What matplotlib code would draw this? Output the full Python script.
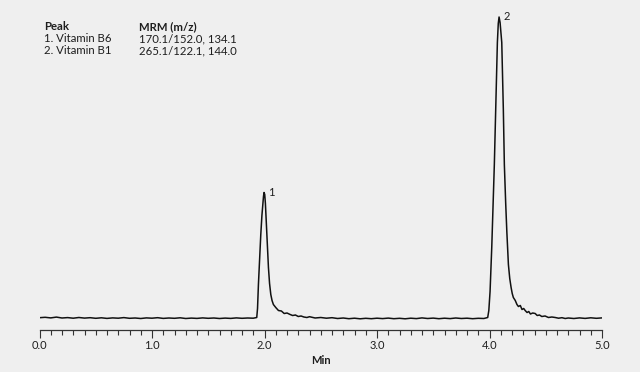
import matplotlib
matplotlib.use("Agg")
import matplotlib.pyplot as plt
from matplotlib.ticker import MultipleLocator, FormatStrFormatter

# ---- data (time in min, signal in arbitrary units) ----
baseline_a_time = [0.00, 0.05, 0.10, 0.15, 0.20, 0.25, 0.30, 0.35, 0.40, 0.45, 0.50, 0.55, 0.60,
                   0.65, 0.70, 0.75, 0.80, 0.85, 0.90, 0.95, 1.00, 1.05, 1.10, 1.15, 1.20, 1.25,
                   1.30, 1.35, 1.40, 1.45, 1.50, 1.55, 1.60, 1.65, 1.70, 1.75, 1.80, 1.85, 1.90]
baseline_a_signal = [0.8, 1.2, 0.6, 1.4, 0.5, 0.9, 0.3, 1.0, 0.4, 0.8, 0.2, 0.7, 0.1,
                     0.6, 0.3, 0.9, 0.2, 0.5, 0.0, 0.6, 0.3, 0.8, 0.1, 0.5, 0.2, 0.7,
                     0.0, 0.4, 0.1, 0.6, 0.2, 0.5, 0.0, 0.4, 0.1, 0.6, 0.2, 0.5, 0.3]

peak1_time = [1.931, 1.938, 1.946, 1.957, 1.967, 1.977, 1.985, 1.991, 1.996, 2.002, 2.008,
              2.014, 2.025, 2.035, 2.045, 2.056, 2.067, 2.079, 2.100, 2.124, 2.150, 2.175,
              2.200, 2.228, 2.250, 2.275, 2.300, 2.325, 2.350, 2.377, 2.400]
peak1_signal = [1.0, 10.0, 34.0, 60.0, 84.0, 103.0, 114.0, 122.0, 126.0, 124.0, 115.0,
                101.0, 75.0, 51.0, 35.0, 24.0, 18.0, 14.0, 11.0, 8.0, 7.5, 5.0,
                5.5, 4.0, 3.0, 3.5, 2.0, 2.5, 1.5, 1.0, 1.8]

baseline_b_time = [2.45, 2.50, 2.55, 2.60, 2.65, 2.70, 2.75, 2.80, 2.85, 2.90, 2.95, 3.00,
                   3.05, 3.10, 3.15, 3.20, 3.25, 3.30, 3.35, 3.40, 3.45, 3.50, 3.55, 3.60,
                   3.65, 3.70, 3.75, 3.80, 3.85, 3.90, 3.95]
baseline_b_signal = [0.5, 1.0, 0.3, 0.8, 0.0, 0.5, -0.2, 0.3, -0.3, 0.2, -0.2, 0.3,
                     -0.1, 0.4, -0.2, 0.2, -0.3, 0.3, -0.1, 0.6, 0.0, 0.4, -0.2, 0.3,
                     -0.1, 0.5, 0.0, 0.3, -0.2, 0.2, 0.0]

peak2_time = [3.984, 3.994, 4.005, 4.020, 4.034, 4.043, 4.055, 4.070, 4.078, 4.085, 4.094,
              4.109, 4.123, 4.132, 4.144, 4.154, 4.168, 4.180, 4.192, 4.202, 4.212, 4.229,
              4.244, 4.257, 4.274, 4.289, 4.304, 4.317, 4.334, 4.349, 4.364, 4.384, 4.406,
              4.424, 4.444, 4.465, 4.494, 4.524, 4.554, 4.584, 4.614, 4.644, 4.673]
peak2_signal = [1.0, 8.0, 27.0, 71.0, 121.0, 154.0, 209.0, 276.0, 295.0, 301.5, 296.0,
                276.0, 209.0, 154.0, 115.0, 87.0, 54.0, 40.0, 31.0, 25.0, 21.0, 18.0,
                14.0, 12.0, 13.0, 9.0, 10.0, 8.0, 6.0, 7.0, 4.5, 5.5, 5.0,
                3.0, 3.5, 2.0, 2.5, 1.0, 1.5, 1.0, 0.3, 0.8, 0.0]

baseline_c_time = [4.70, 4.75, 4.80, 4.85, 4.90, 4.95, 5.00]
baseline_c_signal = [0.5, 0.0, 0.6, 0.1, 0.7, 0.2, 0.6]

peak_labels = ["1", "2"]
legend_header = ["Peak", "MRM (m/z)"]
legend_compounds = ["1. Vitamin B6", "2. Vitamin B1"]
legend_mrm = ["170.1/152.0, 134.1", "265.1/122.1, 144.0"]
x_label = "Min"

time_min = baseline_a_time + peak1_time + baseline_b_time + peak2_time + baseline_c_time
signal = baseline_a_signal + peak1_signal + baseline_b_signal + peak2_signal + baseline_c_signal

# ---- drawing ----
bg = "#efefef"
txt = "#1e1e1e"
plt.rcParams["font.family"] = ["Lato", "DejaVu Sans"]

fig = plt.figure(figsize=(6.4, 3.72), dpi=100, facecolor=bg)
ax = fig.add_axes([39.5 / 640, 42 / 372, (602 - 39.5) / 640, (362 - 42) / 372])
ax.set_facecolor(bg)

ax.plot(time_min, signal, color="#111111", lw=1.1, solid_joinstyle="round")

ax.set_xlim(0, 5.0)
ax.set_ylim(-11.5, 308.5)

for s in ("top", "right", "left"):
    ax.spines[s].set_visible(False)
ax.spines["bottom"].set_color("#333333")
ax.spines["bottom"].set_linewidth(0.9)

ax.yaxis.set_visible(False)
ax.xaxis.set_major_locator(MultipleLocator(1.0))
ax.xaxis.set_minor_locator(MultipleLocator(0.1))
ax.xaxis.set_major_formatter(FormatStrFormatter("%.1f"))
ax.tick_params(axis="x", which="major", length=5.8, width=0.8, color="#333333",
               labelsize=8, pad=1.5, labelcolor=txt)
ax.tick_params(axis="x", which="minor", length=3.4, width=0.8, color="#333333")
ax.set_xlabel(x_label, fontsize=8, fontweight="bold", labelpad=3, color=txt)

# peak labels
apex_idx = [peak1_signal.index(max(peak1_signal)), peak2_signal.index(max(peak2_signal))]
apex_pts = [(peak1_time[apex_idx[0]], peak1_signal[apex_idx[0]]),
            (peak2_time[apex_idx[1]], peak2_signal[apex_idx[1]])]
for lab, (tx, ty) in zip(peak_labels, apex_pts):
    ax.annotate(lab, xy=(tx, ty), xytext=(5.5, 0), textcoords="offset points",
                ha="center", va="center", fontsize=8, color=txt)

# legend table (top-left)
def fx(px):
    return px / 640

def fy(py):
    return 1 - py / 372

fs = 8.2
fig.text(fx(44.5), fy(26.5), legend_header[0], fontsize=fs, fontweight="bold",
         va="center", ha="left", color=txt)
fig.text(fx(139), fy(26.5), legend_header[1], fontsize=fs, fontweight="bold",
         va="center", ha="left", color=txt)
for i, (c, m) in enumerate(zip(legend_compounds, legend_mrm)):
    yy = 39 + 12 * i
    fig.text(fx(44.5), fy(yy), c, fontsize=fs, va="center", ha="left", color=txt)
    fig.text(fx(139), fy(yy), m, fontsize=fs, va="center", ha="left", color=txt)

fig.savefig("out.png", dpi=100, facecolor=bg)
